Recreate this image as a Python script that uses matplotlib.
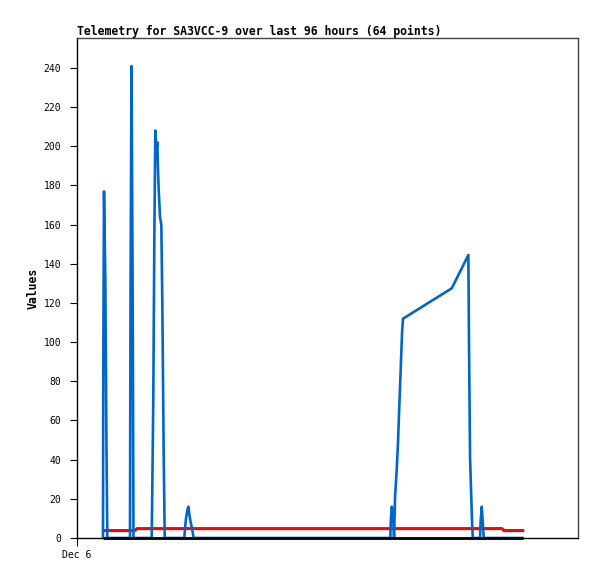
import matplotlib
matplotlib.use('Agg')
import matplotlib.pyplot as plt

# hours since Dec 6 00:00
blue_t = [5.94, 6.01, 6.17, 6.47, 6.74, 6.93,
          12.11, 12.23, 12.46, 12.73, 12.91,
          17.07, 17.21, 17.44, 17.67, 17.90, 18.13, 18.35, 18.51, 18.67, 18.97, 19.27, 19.50, 19.82, 20.05,
          24.53, 24.69, 24.91, 25.21, 25.44, 25.67, 25.99, 26.35, 26.67,
          71.61, 71.70, 71.93, 72.16, 72.30, 72.46, 72.69, 73.07, 73.37, 73.60, 73.83, 74.06, 74.29, 74.51,
          85.65, 89.44, 89.60, 89.83, 90.06, 90.29, 90.45,
          92.11, 92.23, 92.50, 92.73, 92.96, 101.87]
blue_v = [0, 88, 177, 133, 45, 0,
          0, 121, 241, 121, 0,
          0, 25, 72, 152, 208, 197, 202, 188, 178, 164, 160, 120, 41, 0,
          0, 5, 10, 14, 16, 12, 8, 4, 0,
          0, 8, 16, 13, 8, 0, 21, 35, 49, 64, 77, 91, 105, 112,
          127.5, 144.5, 97, 41, 24.5, 8, 0,
          0, 8, 16, 8, 0, 0]

red_t = [6.4, 13.26, 13.71, 97.14, 97.6, 101.87]
red_v = [3.8, 3.8, 4.8, 4.8, 3.8, 3.8]

black_t = [5.94, 101.87]
black_v = [0, 0]

mono = 'DejaVu Sans Mono'

fig = plt.figure(figsize=(5.97, 5.79), dpi=100)
ax = fig.add_axes([77/597, 41/579, 501/597, 500/579])

ax.plot(red_t, red_v, color='#ff0000', lw=2.2, zorder=2)
ax.plot(blue_t, blue_v, color='#0066cc', lw=1.9, zorder=3)
ax.plot(black_t, black_v, color='black', lw=2.0, zorder=4, solid_capstyle='butt', clip_on=False)

ax.set_xlim(0, 114.5)
ax.set_ylim(0, 255.3)
ax.set_yticks(range(0, 241, 20))
ax.set_xticks([0])
ax.set_xticklabels(['Dec 6'])

for lab in ax.get_xticklabels() + ax.get_yticklabels():
    lab.set_fontfamily(mono)
    lab.set_fontsize(7)
ax.tick_params(axis='y', direction='out', length=5, width=0.8, pad=6.5)
ax.tick_params(axis='x', direction='out', length=6, width=0.8, pad=3)

for side in ['top', 'right']:
    ax.spines[side].set_color('#444444')
for side in ['left', 'bottom']:
    ax.spines[side].set_color('black')
for sp in ax.spines.values():
    sp.set_linewidth(1)

ax.set_ylabel('Values', fontfamily=mono, fontweight='bold', fontsize=8.3, labelpad=3)
fig.text(77/597, 1 - 31/579, 'Telemetry for SA3VCC-9 over last 96 hours (64 points)',
         fontfamily=mono, fontweight='bold', fontsize=8.3, ha='left', va='center')

fig.savefig('out.png', dpi=100)
